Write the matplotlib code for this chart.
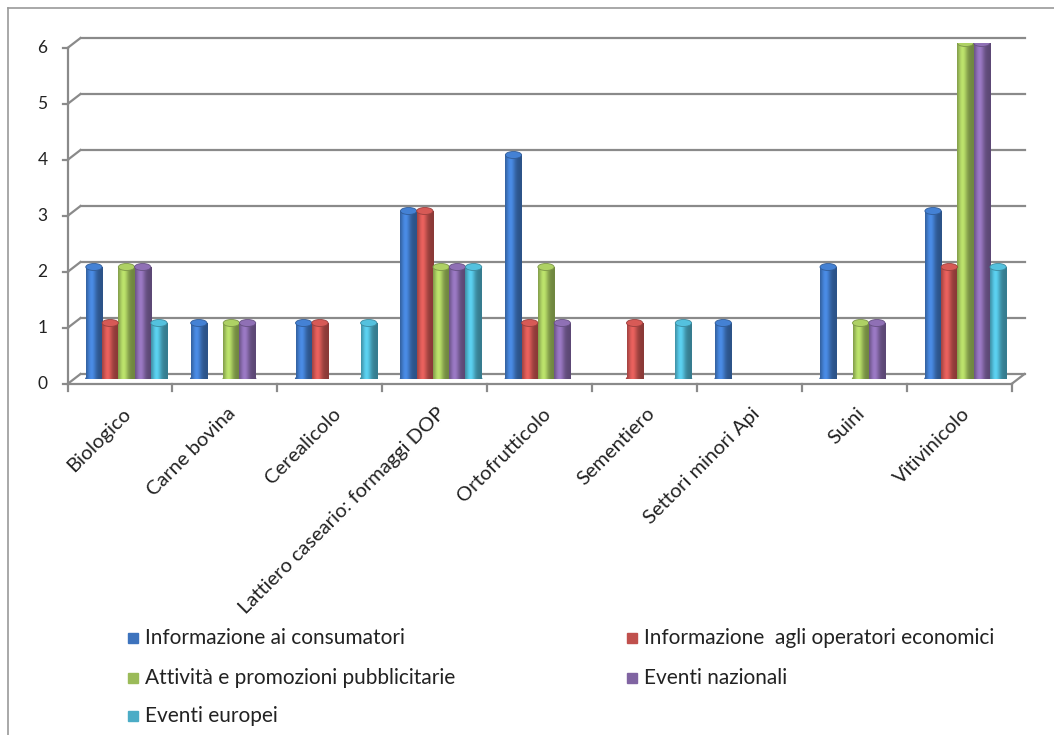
import matplotlib

matplotlib.use("Agg")
import matplotlib.pyplot as plt
import matplotlib.transforms as mtransforms
import numpy as np
from matplotlib.colors import to_rgb
from matplotlib.patches import Ellipse, Rectangle

plt.rcParams["font.family"] = ["Lato", "DejaVu Sans"]

categories = ["Biologico", "Carne bovina", "Cerealicolo",
              "Lattiero caseario: formaggi DOP", "Ortofrutticolo",
              "Sementiero", "Settori minori Api", "Suini", "Vitivinicolo"]
series_names = ["Informazione ai consumatori",
                "Informazione  agli operatori economici",
                "Attività e promozioni pubblicitarie",
                "Eventi nazionali",
                "Eventi europei"]
info_consumatori = [2, 1, 1, 3, 4, 0, 1, 2, 3]
info_operatori = [1, 0, 1, 3, 1, 1, 0, 0, 2]
attivita_promo = [2, 1, 0, 2, 2, 0, 0, 1, 6]
eventi_nazionali = [2, 1, 0, 2, 1, 0, 0, 1, 6]
eventi_europei = [1, 0, 1, 2, 0, 1, 0, 0, 2]
yticks = [0, 1, 2, 3, 4, 5, 6]

series = [info_consumatori, info_operatori, attivita_promo,
          eventi_nazionali, eventi_europei]
colors = ["#3d73bd", "#c0504d", "#9bbb59", "#8064a2", "#4bacc6"]

W, H = 1054, 735
fig = plt.figure(figsize=(W / 100, H / 100), dpi=100)
fig.patch.set_facecolor("white")


def fx(px):
    return px / W


def fy(py):
    return 1 - py / H


n = len(categories)
# axes = the mid-depth plane of the excel 3d chart
ax = fig.add_axes([fx(74), fy(379), fx(1018) - fx(74), fy(43) - fy(379)])
ax.axis("off")
ax.set_xlim(0, n)
ax.set_ylim(0, yticks[-1])

dpi = fig.dpi
back = ax.transData + mtransforms.ScaledTranslation(6.5 / dpi, 5 / dpi, fig.dpi_scale_trans)
front = ax.transData + mtransforms.ScaledTranslation(-6.5 / dpi, -5 / dpi, fig.dpi_scale_trans)
grid_kw = dict(color="#8a8a8a", lw=1.6, clip_on=False, zorder=0.5)

# back wall grid + the little diagonals to the front axis
for v in yticks:
    ax.plot([0, n], [v, v], transform=back, **grid_kw)
    p0 = front.transform((0, v))
    p1 = back.transform((0, v))
    ax.plot([p0[0], p1[0]], [p0[1], p1[1]], transform=None, **grid_kw)
    ax.plot([p0[0] - 5, p0[0]], [p0[1], p0[1]], transform=None, **grid_kw)
    ax.text(p0[0] - 25, p0[1], str(v), transform=None, ha="center",
            va="center", fontsize=12.5, color="#222222")
ax.plot([0, 0], [0, yticks[-1]], transform=front, **grid_kw)
# floor front edge + right diagonal
ax.plot([0, n], [0, 0], transform=front, **grid_kw)
q0 = front.transform((n, 0))
q1 = back.transform((n, 0))
ax.plot([q0[0], q1[0]], [q0[1], q1[1]], transform=None, **grid_kw)
for i in range(n + 1):
    p = front.transform((i, 0))
    ax.plot([p[0], p[0]], [p[1], p[1] - 7], transform=None, **grid_kw)
for i, cat in enumerate(categories):
    p = front.transform((i + 0.5, 0))
    ax.text(p[0] + 2, p[1] - 21, cat, transform=None, rotation=45,
            rotation_mode="anchor", ha="right", va="top", fontsize=14.5,
            color="#222222")

# cylinders
bw = 0.155
x = np.arange(n) + 0.5
cap_h = 7 / 56
t = np.linspace(0, 1, 64)
shade = 0.72 + 0.5 * np.exp(-((t - 0.33) / 0.28) ** 2)
for k, (vals, col) in enumerate(zip(series, colors)):
    xs = x + (k - 2) * bw
    bars = ax.bar(xs, vals, width=bw, color=col, zorder=2)
    base = np.array(to_rgb(col))
    img = np.clip(base[None, :] * shade[:, None], 0, 1)[None, :, :]
    for rect, v in zip(bars, vals):
        if v == 0:
            rect.set_visible(False)
            continue
        x0, w = rect.get_x(), rect.get_width()
        im = ax.imshow(img, extent=[x0, x0 + w, 0, v], aspect="auto",
                       interpolation="bilinear", zorder=2.1)
        im.set_clip_path(rect)
        ax.add_patch(Ellipse((x0 + w / 2, 0), w, cap_h,
                             color=np.clip(base * 0.85, 0, 1), zorder=1.9))
        ax.add_patch(Ellipse((x0 + w / 2, v), w, cap_h,
                             facecolor=np.clip(base * 1.12, 0, 1),
                             edgecolor=np.clip(base * 0.8, 0, 1), lw=0.6,
                             zorder=2.2))
ax.set_xlim(0, n)
ax.set_ylim(0, yticks[-1])

# legend, two columns like excel
leg_pos = [(128, 638), (627, 638), (128, 678), (627, 678), (128, 716)]
for (lx, ly), name, col in zip(leg_pos, series_names, colors):
    fig.patches.append(Rectangle((fx(lx), fy(ly + 5)), 10 / W, 10 / H,
                                 transform=fig.transFigure, color=col))
    fig.text(fx(lx + 17), fy(ly), name, ha="left", va="center",
             fontsize=15, color="#222222")

# chart area border (cut at right/bottom in the original)
fig.add_artist(plt.Line2D([fx(8), fx(8)], [fy(8), 0], color="#9a9a9a",
                          lw=1.2, transform=fig.transFigure))
fig.add_artist(plt.Line2D([fx(8), 1], [fy(8), fy(8)], color="#9a9a9a",
                          lw=1.2, transform=fig.transFigure))

fig.savefig("out.png", dpi=100)
